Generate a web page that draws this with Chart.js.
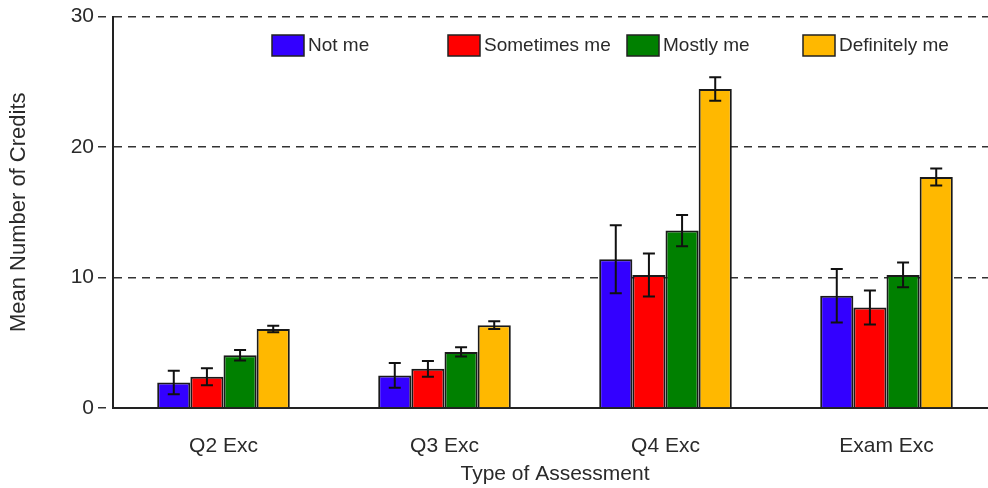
<!DOCTYPE html>
<html>
<head>
<meta charset="utf-8">
<script src="https://cdn.jsdelivr.net/npm/chart.js@4"></script>
<style>
  html, body { margin: 0; padding: 0; background: #fff; overflow: hidden; }
  #wrap { width: 997px; height: 488px; }
</style>
</head>
<body>
<div id="wrap"><canvas id="barChart"></canvas></div>
<script>
const categories = ["Q2 Exc", "Q3 Exc", "Q4 Exc", "Exam Exc"];
const seriesNames = ["Not me", "Sometimes me", "Mostly me", "Definitely me"];
const seriesColors = ["#3300ff", "#ff0000", "#008000", "#ffb800"];

const notMe = [1.95, 2.5, 11.4, 8.6];
const sometimesMe = [2.4, 3.0, 10.2, 7.7];
const mostlyMe = [4.05, 4.3, 13.6, 10.2];
const definitelyMe = [6.05, 6.35, 24.45, 17.7];

const notMeErr = [0.9, 0.95, 2.6, 2.05];
const sometimesMeErr = [0.65, 0.6, 1.65, 1.3];
const mostlyMeErr = [0.4, 0.35, 1.2, 0.95];
const definitelyMeErr = [0.25, 0.3, 0.9, 0.65];

const yTicks = [0, 10, 20, 30];

const values = [notMe, sometimesMe, mostlyMe, definitelyMe];
const errors = [notMeErr, sometimesMeErr, mostlyMeErr, definitelyMeErr];

const FONT = "'Liberation Sans', Arial, sans-serif";
const TEXT = "#2a2a2a";

// error bars drawn on top of every bar
const errorBars = {
  id: "errorBars",
  afterDatasetsDraw(chart) {
    const ctx = chart.ctx;
    const y = chart.scales.y;
    ctx.save();
    ctx.strokeStyle = "#111";
    ctx.lineWidth = 2;
    chart.data.datasets.forEach((ds, i) => {
      const meta = chart.getDatasetMeta(i);
      meta.data.forEach((bar, j) => {
        const v = ds.data[j], e = ds.errs[j];
        const top = y.getPixelForValue(v + e);
        const bot = y.getPixelForValue(v - e);
        ctx.beginPath();
        ctx.moveTo(bar.x, top); ctx.lineTo(bar.x, bot);
        ctx.moveTo(bar.x - 6, top); ctx.lineTo(bar.x + 6, top);
        ctx.moveTo(bar.x - 6, bot); ctx.lineTo(bar.x + 6, bot);
        ctx.stroke();
      });
    });
    ctx.restore();
  }
};

// legend boxes sit inside the plot, at the same spots as the original
const legendX = [159, 335, 514, 690];
const boxLegend = {
  id: "boxLegend",
  afterDraw(chart) {
    const ctx = chart.ctx;
    const a = chart.chartArea;
    ctx.save();
    ctx.font = "19px " + FONT;
    ctx.textBaseline = "middle";
    seriesNames.forEach((name, i) => {
      const x = a.left + legendX[i];
      const yc = 45;
      ctx.fillStyle = seriesColors[i];
      ctx.fillRect(x, yc - 10, 32, 21);
      ctx.strokeStyle = "#222";
      ctx.lineWidth = 1.5;
      ctx.strokeRect(x, yc - 10, 32, 21);
      ctx.fillStyle = TEXT;
      ctx.fillText(name, x + 36, yc + 1);
    });
    ctx.restore();
  }
};

const ctx = document.getElementById("barChart").getContext("2d");
new Chart(ctx, {
  type: "bar",
  data: {
    labels: categories,
    datasets: seriesNames.map((n, i) => ({
      label: n,
      data: values[i],
      errs: errors[i],
      backgroundColor: seriesColors[i],
      borderColor: "#1a1a1a",
      borderWidth: 2,
      categoryPercentage: 0.6,
      barPercentage: 1.0
    }))
  },
  options: {
    responsive: true,
    maintainAspectRatio: false,
    animation: false,
    layout: { padding: { top: 13, right: 0, left: 0, bottom: 0 } },
    plugins: { legend: { display: false }, tooltip: { enabled: false } },
    scales: {
      x: {
        grid: { display: false, drawTicks: false },
        border: { color: "#222", width: 2 },
        ticks: { color: TEXT, padding: 26, font: { family: FONT, size: 21 } },
        title: { display: true, text: "Type of Assessment", color: TEXT,
                 font: { family: FONT, size: 21 }, padding: { top: 0, bottom: 1 } },
        afterFit(s) { s.height = 80; }
      },
      y: {
        min: 0, max: 30,
        afterBuildTicks(s) { s.ticks = yTicks.map(v => ({ value: v })); },
        grid: {
          color: c => c.tick && c.tick.value === 0 ? "rgba(0,0,0,0)" : "#333",
          lineWidth: 1.5,
          tickColor: "#333",
          tickLength: 15,
          tickBorderDash: [8, 7]
        },
        border: { color: "#222", width: 2, dash: [8, 6] },
        ticks: { color: TEXT, padding: 4, font: { family: FONT, size: 21 } },
        title: { display: true, text: "Mean Number of Credits", color: TEXT,
                 font: { family: FONT, size: 22 }, padding: { top: 6, bottom: 0 } },
        afterFit(s) { s.width = 113; }
      }
    }
  },
  plugins: [errorBars, boxLegend]
});
</script>
</body>
</html>
